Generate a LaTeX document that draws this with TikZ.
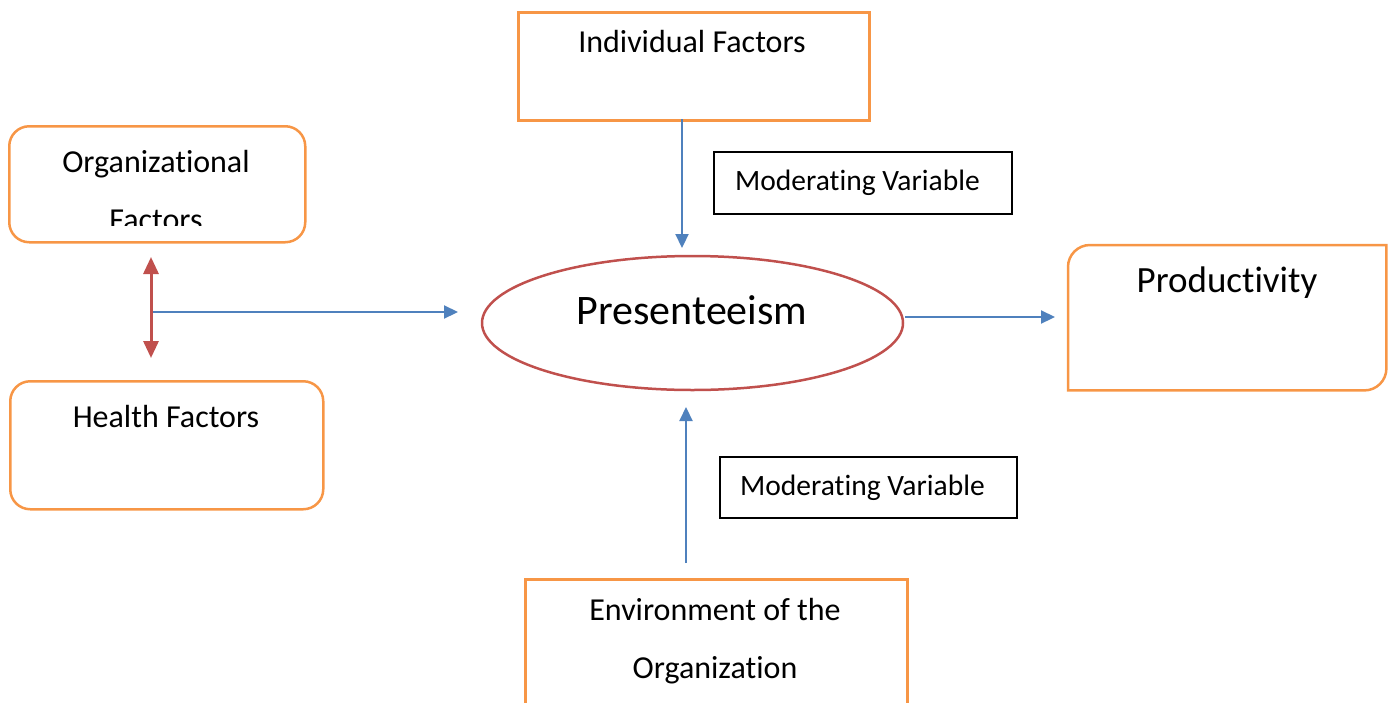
\documentclass[tikz,border=0pt]{standalone}
\usepackage{fontspec}
\setmainfont{Carlito}[Ligatures=NoCommon]
\usetikzlibrary{arrows.meta,shapes.geometric}
\definecolor{boxorange}{HTML}{F79646}
\definecolor{ellred}{HTML}{C0504D}
\definecolor{arrblue}{HTML}{4F81BD}
\tikzset{
  obox/.style={draw=boxorange,line width=2.5pt,inner sep=0pt,anchor=north west},
  kbox/.style={draw=black,line width=1.8pt,inner sep=0pt,anchor=north west},
  txt/.style={inner sep=0pt,anchor=base,font=\fontsize{32}{38}\selectfont},
  mtxt/.style={inner sep=0pt,anchor=base west,font=\fontsize{29.5}{35}\selectfont},
  barrow/.style={draw=arrblue,line width=2.2pt,-{Triangle[length=14pt,width=13pt]}},
  rarrow/.style={draw=ellred,line width=3pt,{Triangle[length=17pt,width=15pt]}-{Triangle[length=17pt,width=15pt]}},
}
\begin{document}
\begin{tikzpicture}[x=1pt,y=-1pt]
\useasboundingbox (0,0) rectangle (1390,702);
% Organizational Factors
\node[obox,rounded corners=20pt,minimum width=296pt,minimum height=116pt] (org) at (8,125) {};
\node[txt] (orgt1) at (156,172) {Organizational};
\begin{scope}
\clip (0,0) rectangle (1390,225);
\node[txt] (orgt2) at (156,230) {Factors};
\end{scope}
% Health Factors
\node[obox,rounded corners=20pt,minimum width=313pt,minimum height=128pt] (hea) at (9,380) {};
\node[txt] (heat) at (166,427) {Health Factors};
% Individual Factors
\node[obox,minimum width=351pt,minimum height=108pt] (ind) at (517,11) {};
\node[txt] (indt) at (692,52) {Individual Factors};
% Moderating variable 1
\node[kbox,minimum width=298pt,minimum height=62pt] (mod1) at (713,151) {};
\node[mtxt] (mod1t) at (735,190) {Moderating Variable};
% Presenteeism
\node[ellipse,draw=ellred,line width=2.5pt,minimum width=421pt,minimum height=134pt,inner sep=0pt] (pres) at (692.5,323) {};
\node[txt,font=\fontsize{42}{48}\selectfont] (prest) at (692,324) {Presenteeism};
% Productivity
\node[inner sep=0pt,anchor=north west,minimum width=318pt,minimum height=145pt] (prod) at (1068,245) {};
\draw[boxorange,line width=2.5pt] ([yshift=-22pt]prod.north west) arc[start angle=180,end angle=90,radius=22pt] -- (prod.north east) -- ([yshift=22pt]prod.south east) arc[start angle=0,end angle=-90,radius=22pt] -- (prod.south west) -- cycle;
\node[txt,font=\fontsize{37}{43}\selectfont] (prodt) at (1227,292) {Productivity};
% Moderating variable 2
\node[kbox,minimum width=297pt,minimum height=61pt] (mod2) at (719,456) {};
\node[mtxt] (mod2t) at (740,495) {Moderating Variable};
% Environment of the Organization
\node[obox,minimum width=382pt,minimum height=140pt] (env) at (524,578) {};
\node[txt] (envt1) at (715,620) {Environment of the};
\node[txt] (envt2) at (715,678) {Organization};
% connector end points
\coordinate (rtop) at (151,257);
\coordinate (rbot) at (151,358);
\coordinate (hstart) at (153,312);
\coordinate (hend) at (458,312);
\coordinate (istart) at (682,119);
\coordinate (iend) at (682,248);
\coordinate (pstart) at (905,317);
\coordinate (pend) at (1055,317);
\coordinate (estart) at (686,563);
\coordinate (eend) at (686,407);
% connectors
\draw[rarrow] (rtop) -- (rbot);
\draw[barrow] (hstart) -- (hend);
\draw[barrow] (istart) -- (iend);
\draw[barrow] (pstart) -- (pend);
\draw[barrow] (estart) -- (eend);
\end{tikzpicture}
\end{document}
